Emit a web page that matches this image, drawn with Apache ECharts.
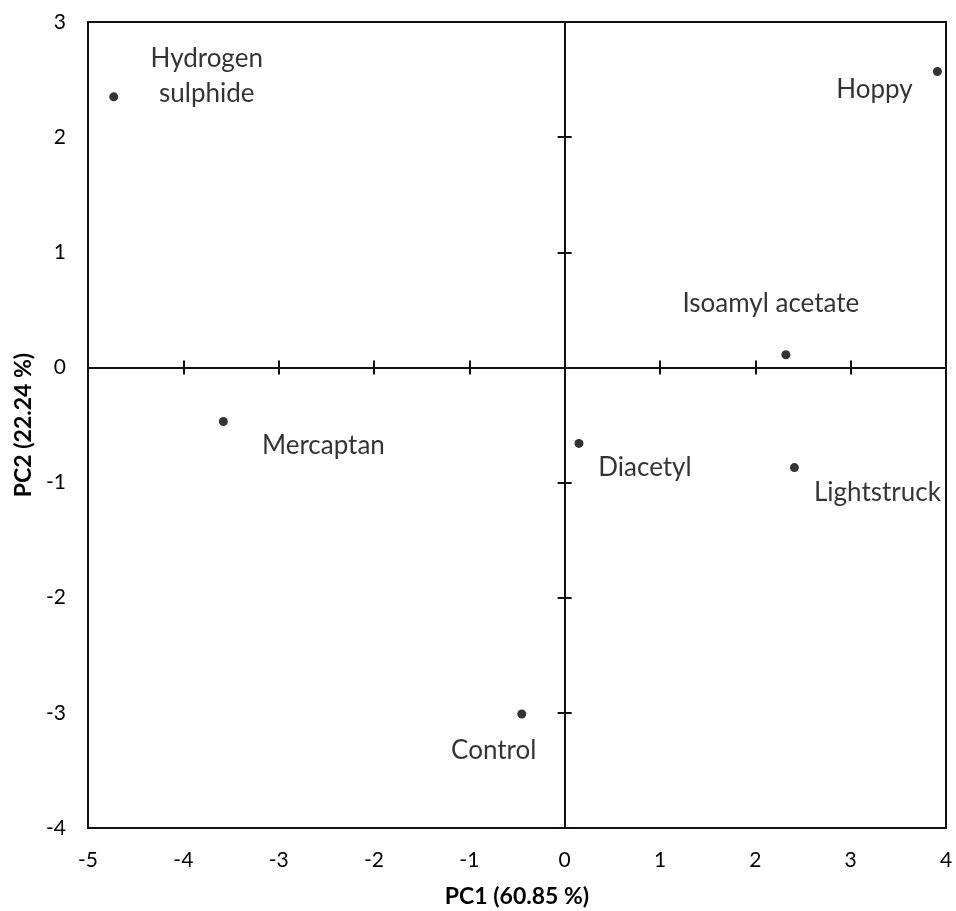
<!DOCTYPE html>
<html>
<head>
<meta charset="utf-8">
<script src="https://cdn.jsdelivr.net/npm/echarts@6/dist/echarts.min.js"></script>
<style>
  html, body { margin: 0; padding: 0; background: #fff; }
  #chart { width: 956px; height: 911px; }
</style>
</head>
<body>
<div id="chart"></div>
<script>
// PCA scores of the beer off-flavour samples
const sampleNames = ['Hydrogen\nsulphide', 'Hoppy', 'Isoamyl acetate', 'Mercaptan', 'Diacetyl', 'Lightstruck', 'Control'];
const pc1Scores = [-4.73, 3.91, 2.32, -3.58, 0.15, 2.41, -0.45];
const pc2Scores = [2.35, 2.57, 0.11, -0.47, -0.66, -0.87, -3.01];

// axis ranges and titles
const xRange = [-5, 4];
const yRange = [-4, 3];
const xTitle = 'PC1 (60.85 %)';
const yTitle = 'PC2 (22.24 %)';

// where each sample's name sits relative to its point (px)
const labelOffsets = [[93, -21], [-63, 18], [-15, -51], [100, 24], [66, 24], [83, 25], [-28, 37]];

const FONT = 'Lato';
const INK = '#000';
const lineStyle = { color: '#111', width: 2 };

const points = sampleNames.map((name, i) => ({
  name: name,
  value: [pc1Scores[i], pc2Scores[i]],
  label: { offset: labelOffsets[i] }
}));

// an axis that only draws the crossing line through zero plus ticks on one side
function zeroAxis(position, inside, range) {
  return {
    type: 'value', position: position, min: range[0], max: range[1], interval: 1,
    axisLine: { show: true, onZero: true, onZeroAxisIndex: 0, lineStyle: lineStyle },
    axisTick: { show: true, inside: inside, length: 7, lineStyle: lineStyle },
    axisLabel: { show: false },
    splitLine: { show: false }
  };
}

const chart = echarts.init(document.getElementById('chart'));
chart.setOption({
  animation: false,
  backgroundColor: '#fff',
  textStyle: { fontFamily: FONT },
  grid: {
    left: 88, top: 22, right: 10, bottom: 83,
    outerBoundsMode: 'none', containLabel: false,
    show: true, borderColor: '#111', borderWidth: 2, backgroundColor: 'transparent'
  },
  xAxis: [
    {
      type: 'value', position: 'bottom', min: xRange[0], max: xRange[1], interval: 1,
      axisLine: { show: false, onZero: false },
      axisTick: { show: false },
      splitLine: { show: false },
      axisLabel: { fontSize: 21, color: INK, fontFamily: FONT, margin: 22 },
      name: xTitle, nameLocation: 'middle', nameGap: 57,
      nameTextStyle: { fontSize: 23, fontWeight: 'bold', color: INK, fontFamily: FONT }
    },
    zeroAxis('bottom', true, xRange),
    zeroAxis('bottom', false, xRange)
  ],
  yAxis: [
    {
      type: 'value', position: 'left', min: yRange[0], max: yRange[1], interval: 1,
      axisLine: { show: false, onZero: false },
      axisTick: { show: false },
      splitLine: { show: false },
      axisLabel: { fontSize: 21, color: INK, fontFamily: FONT, margin: 22 },
      name: yTitle, nameLocation: 'middle', nameGap: 52, nameRotate: 90,
      nameTextStyle: { fontSize: 23, fontWeight: 'bold', color: INK, fontFamily: FONT }
    },
    zeroAxis('left', true, yRange),
    zeroAxis('left', false, yRange)
  ],
  series: [{
    type: 'scatter',
    xAxisIndex: 0, yAxisIndex: 0,
    symbol: 'circle', symbolSize: 9,
    itemStyle: { color: '#000' },
    label: {
      show: true, position: 'inside',
      formatter: p => p.name,
      fontFamily: FONT, fontSize: 26, color: INK,
      align: 'center', verticalAlign: 'middle', lineHeight: 35
    },
    data: points,
    z: 10
  }]
});
</script>
</body>
</html>
